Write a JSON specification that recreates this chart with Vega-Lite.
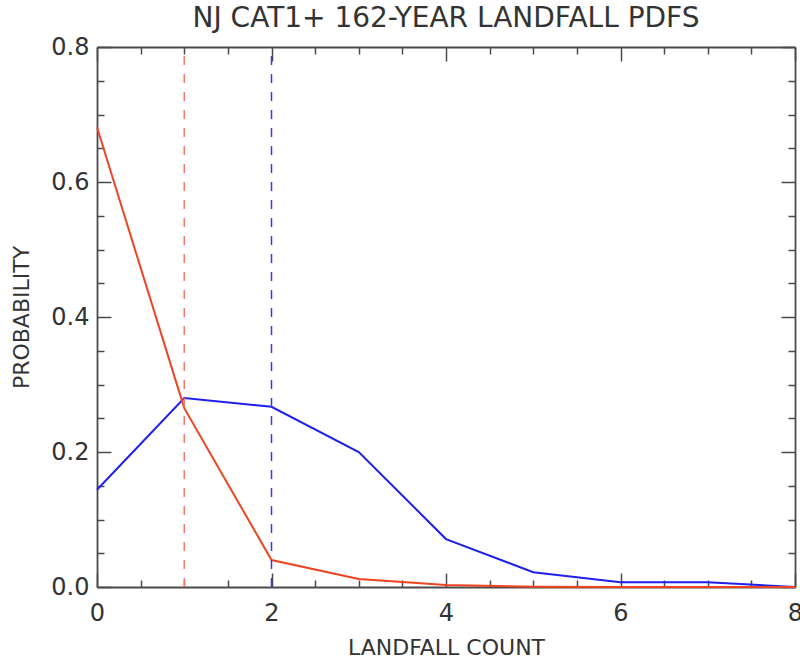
{
  "$schema": "https://vega.github.io/schema/vega-lite/v6.json",
  "width": 698,
  "height": 540,
  "autosize": {"type": "none"},
  "padding": {"left": 97, "top": 47, "right": 5, "bottom": 74},
  "background": "white",
  "title": {
    "text": "NJ CAT1+ 162-YEAR LANDFALL PDFS",
    "fontSize": 28,
    "font": "DejaVu Sans",
    "fontWeight": "normal",
    "color": "#333333",
    "anchor": "middle",
    "baseline": "alphabetic",
    "offset": -20
  },
  "datasets": {
    "pdf": [
      {"series": "red", "count": 0, "probability": 0.681},
      {"series": "red", "count": 1, "probability": 0.265},
      {"series": "red", "count": 2, "probability": 0.040},
      {"series": "red", "count": 3, "probability": 0.012},
      {"series": "red", "count": 4, "probability": 0.003},
      {"series": "red", "count": 5, "probability": 0.0005},
      {"series": "red", "count": 6, "probability": 0.0},
      {"series": "red", "count": 7, "probability": 0.0},
      {"series": "red", "count": 8, "probability": 0.0},
      {"series": "blue", "count": 0, "probability": 0.144},
      {"series": "blue", "count": 1, "probability": 0.280},
      {"series": "blue", "count": 2, "probability": 0.267},
      {"series": "blue", "count": 3, "probability": 0.200},
      {"series": "blue", "count": 4, "probability": 0.071},
      {"series": "blue", "count": 5, "probability": 0.022},
      {"series": "blue", "count": 6, "probability": 0.007},
      {"series": "blue", "count": 7, "probability": 0.007},
      {"series": "blue", "count": 8, "probability": 0.0}
    ],
    "markers": [
      {"series": "red", "count": 1},
      {"series": "blue", "count": 2}
    ]
  },
  "config": {
    "view": {"stroke": null},
    "axis": {
      "domainColor": "#4a4a4a",
      "domainWidth": 1.8,
      "tickColor": "#4a4a4a",
      "tickWidth": 1.5,
      "grid": false,
      "labelFont": "DejaVu Sans",
      "labelFontSize": 24,
      "labelColor": "#333333",
      "labelFlush": false,
      "labelOverlap": false,
      "labelBound": false,
      "titleFont": "DejaVu Sans",
      "titleFontSize": 22,
      "titleFontWeight": "normal",
      "titleColor": "#333333"
    }
  },
  "resolve": {"axis": {"x": "independent", "y": "independent"}},
  "layer": [
    {
      "data": {"name": "pdf"},
      "transform": [{"filter": "datum.series === 'blue'"}],
      "mark": {"type": "line", "color": "#1f1fef", "strokeWidth": 2},
      "encoding": {
        "x": {
          "field": "count", "type": "quantitative",
          "scale": {"domain": [0, 8], "nice": false},
          "axis": {"orient": "bottom", "values": [0, 2, 4, 6, 8], "format": "d", "tickSize": -14, "labelPadding": 28, "title": "LANDFALL COUNT", "titlePadding": 12}
        },
        "y": {
          "field": "probability", "type": "quantitative",
          "scale": {"domain": [0, 0.8], "nice": false},
          "axis": {"orient": "left", "values": [0, 0.2, 0.4, 0.6, 0.8], "format": ".1f", "tickSize": -14, "labelPadding": 22, "title": "PROBABILITY", "titlePadding": 17}
        }
      }
    },
    {
      "data": {"name": "pdf"},
      "transform": [{"filter": "datum.series === 'red'"}],
      "mark": {"type": "line", "color": "#ee4422", "strokeWidth": 2},
      "encoding": {
        "x": {
          "field": "count", "type": "quantitative",
          "scale": {"domain": [0, 8], "nice": false},
          "axis": {"orient": "bottom", "values": [0.5, 1, 1.5, 2.5, 3, 3.5, 4.5, 5, 5.5, 6.5, 7, 7.5], "tickSize": -7, "labels": false, "domain": false, "title": null}
        },
        "y": {
          "field": "probability", "type": "quantitative",
          "scale": {"domain": [0, 0.8], "nice": false},
          "axis": {"orient": "left", "values": [0.05, 0.1, 0.15, 0.25, 0.3, 0.35, 0.45, 0.5, 0.55, 0.65, 0.7, 0.75], "tickSize": -7, "labels": false, "domain": false, "title": null}
        }
      }
    },
    {
      "data": {"name": "markers"},
      "transform": [{"filter": "datum.series === 'blue'"}],
      "mark": {"type": "rule", "color": "#3535ff", "strokeWidth": 1.5, "strokeDash": [9, 9]},
      "encoding": {
        "x": {
          "field": "count", "type": "quantitative",
          "scale": {"domain": [0, 8], "nice": false},
          "axis": {"orient": "top", "values": [0, 2, 4, 6, 8], "tickSize": -14, "labels": false, "title": null}
        },
        "y": {
          "datum": 0, "type": "quantitative",
          "scale": {"domain": [0, 0.8], "nice": false},
          "axis": {"orient": "right", "values": [0, 0.2, 0.4, 0.6, 0.8], "tickSize": -14, "labels": false, "title": null}
        },
        "y2": {"datum": 0.8}
      }
    },
    {
      "data": {"name": "markers"},
      "transform": [{"filter": "datum.series === 'red'"}],
      "mark": {"type": "rule", "color": "#f5796a", "strokeWidth": 1.5, "strokeDash": [9, 9]},
      "encoding": {
        "x": {
          "field": "count", "type": "quantitative",
          "scale": {"domain": [0, 8], "nice": false},
          "axis": {"orient": "top", "values": [0.5, 1, 1.5, 2.5, 3, 3.5, 4.5, 5, 5.5, 6.5, 7, 7.5], "tickSize": -7, "labels": false, "domain": false, "title": null}
        },
        "y": {
          "datum": 0, "type": "quantitative",
          "scale": {"domain": [0, 0.8], "nice": false},
          "axis": {"orient": "right", "values": [0.05, 0.1, 0.15, 0.25, 0.3, 0.35, 0.45, 0.5, 0.55, 0.65, 0.7, 0.75], "tickSize": -7, "labels": false, "domain": false, "title": null}
        },
        "y2": {"datum": 0.8}
      }
    }
  ]
}
